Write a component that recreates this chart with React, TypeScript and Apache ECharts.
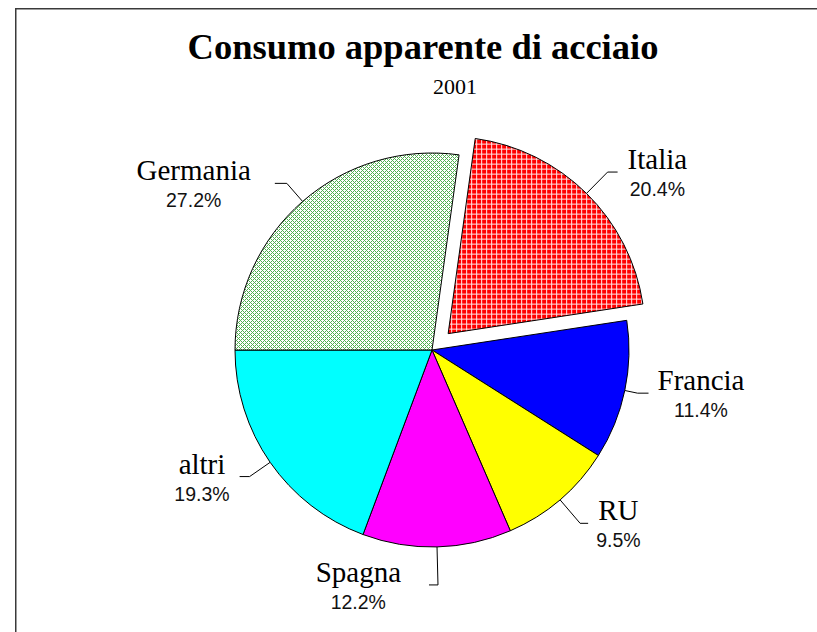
import React, { useEffect, useRef } from 'react';
import * as echarts from 'echarts';

// ---- Data ----
const categories = ['Italia', 'Francia', 'RU', 'Spagna', 'altri', 'Germania'];
const shares = [20.4, 11.4, 9.5, 12.2, 19.3, 27.2];
const titleText = 'Consumo apparente di acciaio';
const subtitleText = '2001';
const explodedCategory = 'Italia';

// ---- Styling / layout (kept apart from data) ----
const SERIF = '"Liberation Serif", "Times New Roman", serif';
const SANS = '"Liberation Sans", Arial, sans-serif';

const sliceFill: Record<string, string> = {
  Francia: '#0000ff',
  RU: '#ffff00',
  Spagna: '#ff00ff',
  altri: '#00ffff',
};

// label line lengths (radial, horizontal) and text gap per slice
const labelCfg: Record<string, { len: number; len2: number; gap: number; flip?: boolean }> = {
  Italia: { len: 30, len2: 10, gap: 10 },
  Francia: { len: 13, len2: 11, gap: 9 },
  RU: { len: 31, len2: 8, gap: 8 },
  Spagna: { len: 38, len2: 9, gap: 28, flip: true },
  altri: { len: 25, len2: 10, gap: 10 },
  Germania: { len: 24, len2: 12, gap: 24 },
};

function gridPattern(): HTMLCanvasElement {
  const c = document.createElement('canvas');
  c.width = 5;
  c.height = 5;
  const ctx = c.getContext('2d')!;
  ctx.fillStyle = '#ff0000';
  ctx.fillRect(0, 0, 5, 5);
  ctx.fillStyle = '#ffe4e4';
  ctx.fillRect(0, 0, 5, 1);
  ctx.fillRect(0, 0, 1, 5);
  return c;
}

function hatchPattern(): HTMLCanvasElement {
  const c = document.createElement('canvas');
  c.width = 4;
  c.height = 4;
  const ctx = c.getContext('2d')!;
  ctx.fillStyle = '#ffffff';
  ctx.fillRect(0, 0, 4, 4);
  ctx.fillStyle = '#52b052';
  for (let x = 0; x < 4; x++) {
    for (let y = 0; y < 4; y++) {
      if ((x + y) % 4 === 0 || (x - y + 4) % 4 === 0) ctx.fillRect(x, y, 1, 1);
    }
  }
  return c;
}

export default function App() {
  const ref = useRef<HTMLDivElement>(null);

  useEffect(() => {
    if (!ref.current) return;
    const chart = echarts.init(ref.current, undefined, { renderer: 'svg' });

    const patterns: Record<string, any> = {
      Italia: { image: gridPattern(), repeat: 'repeat' },
      Germania: { image: hatchPattern(), repeat: 'repeat' },
    };

    const data = categories.map((name, i) => {
      const cfg = labelCfg[name];
      return {
        name,
        value: shares[i],
        selected: name === explodedCategory,
        itemStyle: { color: patterns[name] || sliceFill[name] },
        labelLine: { length: cfg.len, length2: cfg.len2 },
        label: { distanceToLabelLine: cfg.gap },
      };
    });

    chart.setOption({
      animation: false,
      backgroundColor: '#ffffff',
      graphic: [
        {
          type: 'rect',
          silent: true,
          shape: { x: 15.75, y: 8.75, width: 1200, height: 1200 },
          style: { fill: 'none', stroke: '#3a3a3a', lineWidth: 1.5 },
        },
        {
          type: 'text',
          x: 423,
          y: 46,
          style: {
            text: titleText,
            font: `bold 36.5px ${SERIF}`,
            fontFamily: SERIF,
            fontSize: 36.5,
            fontWeight: 'bold',
            fill: '#000',
            textAlign: 'center',
            textVerticalAlign: 'middle',
            align: 'center',
            verticalAlign: 'middle',
          },
        },
        {
          type: 'text',
          x: 455,
          y: 86,
          style: {
            text: subtitleText,
            font: `22px ${SERIF}`,
            fontFamily: SERIF,
            fontSize: 22,
            fill: '#000',
            textAlign: 'center',
            textVerticalAlign: 'middle',
            align: 'center',
            verticalAlign: 'middle',
          },
        },
      ],
      series: [
        {
          type: 'pie',
          center: [432, 350],
          radius: 197,
          startAngle: 82.1,
          clockwise: true,
          selectedMode: 'single',
          selectedOffset: 23,
          avoidLabelOverlap: false,
          itemStyle: { borderColor: '#000', borderWidth: 1 },
          emphasis: { disabled: true, scale: false },
          label: {
            show: true,
            position: 'outside',
            color: '#000',
            formatter: (p: any) => `{n|${p.name}}\n{p|${Number(p.value).toFixed(1)}%}`,
            rich: {
              n: { fontFamily: SERIF, fontSize: 29, lineHeight: 34, color: '#000', align: 'center' },
              p: { fontFamily: SANS, fontSize: 19.5, lineHeight: 26, color: '#111', align: 'center' },
            },
          },
          labelLine: { show: true, smooth: false, lineStyle: { color: '#000', width: 1 } },
          labelLayout: (params: any) => {
            const name = categories[params.dataIndex];
            const cfg = labelCfg[name];
            if (!cfg || !cfg.flip || !params.labelLinePoints) return {};
            const pts = params.labelLinePoints;
            const p1 = pts[0];
            const p2 = pts[1];
            const p3 = [p2[0] - cfg.len2, p2[1]];
            return {
              x: p3[0] - cfg.gap,
              y: p3[1],
              align: 'right',
              labelLinePoints: [p1, p2, p3],
            };
          },
          data,
        },
      ],
    });

    return () => chart.dispose();
  }, []);

  return (
    <div
      ref={ref}
      style={{ position: 'absolute', left: 0, top: 0, width: 817, height: 632, background: '#fff' }}
    />
  );
}
